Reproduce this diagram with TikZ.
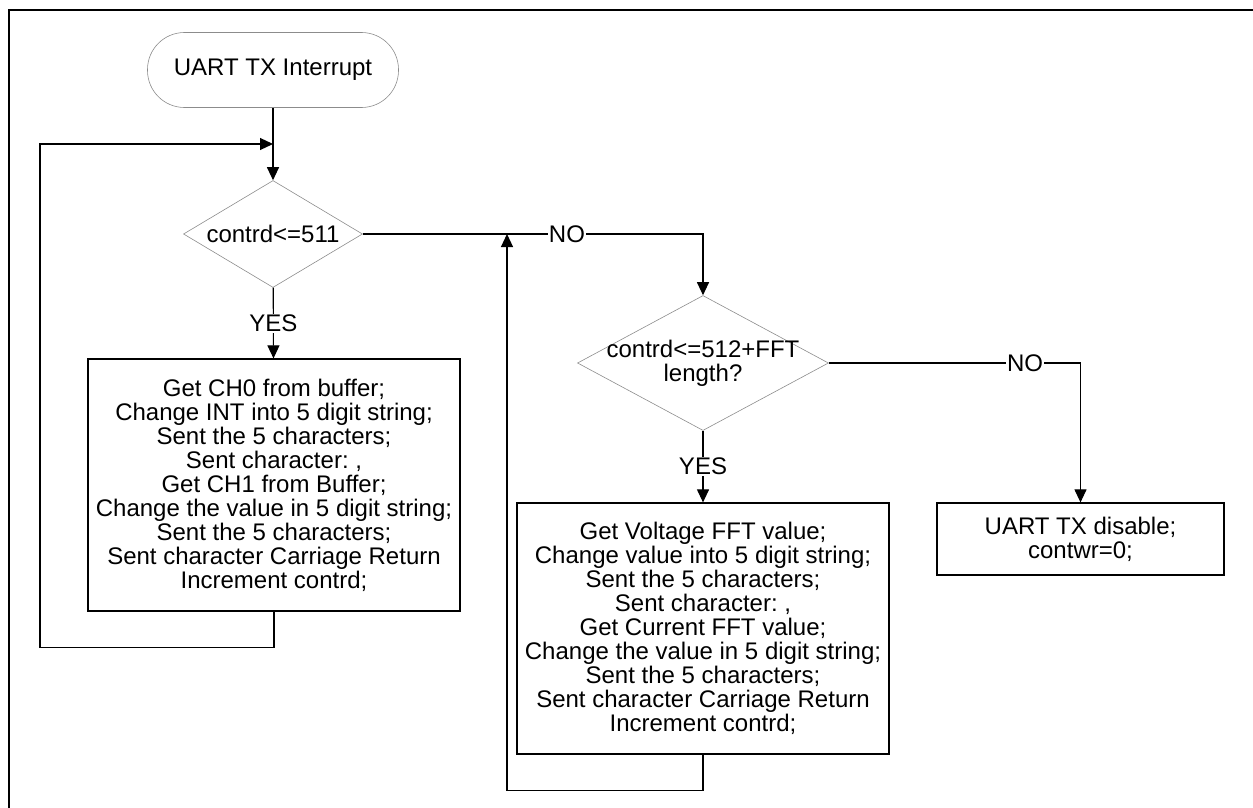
\documentclass[tikz,border=0pt]{standalone}
\usepackage{fontspec}
\setmainfont{Liberation Sans}
\usepackage{tikz}
\usetikzlibrary{shapes.geometric, arrows.meta, positioning, calc}
\frenchspacing

\begin{document}
\begin{tikzpicture}[
  x=1pt, y=-1pt,
  every node/.append style={font=\fontsize{24}{24}\selectfont},
  termnode/.style={rectangle, rounded corners=37pt, draw=gray!90, line width=0.6pt, minimum width=251pt, minimum height=75pt},
  decnode/.style={diamond, draw=gray!90, line width=0.6pt, inner sep=0pt, align=center},
  procnode/.style={rectangle, draw=black, line width=1.2pt, align=center, inner sep=0pt},
  lbl/.style={fill=white, inner sep=1pt},
  flowline/.style={draw=black, line width=1.1pt},
  flowarrow/.style={flowline, -{Triangle[length=13pt, width=12pt]}}
]
\useasboundingbox (0,0) rectangle (1253,808);

% Frame
\draw[line width=2.5pt] (9,808) -- (9,10) -- (1253,10);

% First branch
\node[termnode] (start) at (273,70) {UART TX Interrupt};
\coordinate (loopin) at (273,144);
\node[decnode, minimum width=179pt, minimum height=107pt, aspect=1.67] (dec_a) at (273,234) {contrd<=511};
\node[procnode, minimum width=372pt, minimum height=252pt] (proc_a) at (274,485) {Get CH0 from buffer;\\ Change INT into 5 digit string;\\ Sent the 5 characters;\\ Sent character: ,\\ Get CH1 from Buffer;\\ Change the value in 5 digit string;\\ Sent the 5 characters;\\ Sent character Carriage Return\\ Increment contrd;};

\draw[flowarrow] (start) -- (dec_a);
\draw[flowarrow] (dec_a) -- node[lbl] {YES} (proc_a);
\draw[flowarrow] (proc_a.south) |- ++(-234,36) |- (loopin);

% Second branch
\coordinate (loopin_b) at (507,234);
\node[decnode, minimum width=251pt, minimum height=135pt, aspect=1.86, inner xsep=-30pt] (dec_b) at (703,363) {contrd<=512+FFT\\ length?};
\node[procnode, minimum width=372pt, minimum height=251pt] (proc_b) at (703,628.5) {Get Voltage FFT value;\\ Change value into 5 digit string;\\ Sent the 5 characters;\\ Sent character: ,\\ Get Current FFT value;\\ Change the value in 5 digit string;\\ Sent the 5 characters;\\ Sent character Carriage Return\\ Increment contrd;};
\node[procnode, minimum width=287pt, minimum height=72pt] (proc_c) at (1080.5,539) {UART TX disable;\\ contwr=0;};

\draw[flowarrow] (dec_a.east) -| node[lbl, pos=0.3] {NO} (dec_b.north);
\draw[flowarrow] (dec_b) -- node[lbl] {YES} (proc_b);
\draw[flowarrow] (proc_b.south) |- ++(-196,36) -- (loopin_b);
\draw[flowarrow] (dec_b.east) -| node[lbl, pos=0.39] {NO} (proc_c.north);

\end{tikzpicture}
\end{document}
